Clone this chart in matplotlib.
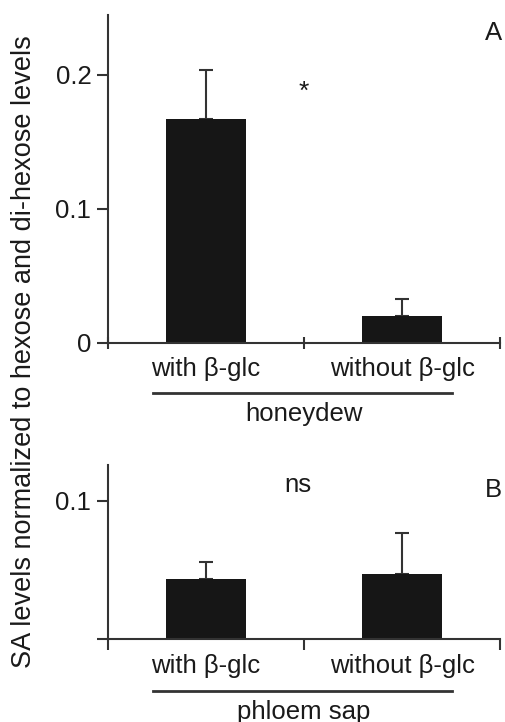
import matplotlib
matplotlib.use("Agg")
import matplotlib.pyplot as plt
import matplotlib.transforms as mtrans

plt.rcParams['font.family'] = ['Liberation Sans', 'DejaVu Sans']

categories = ["with β-glc", "without β-glc"]
honeydew_mean = [0.167, 0.020]
honeydew_err = [0.0365, 0.0125]
phloem_mean = [0.0435, 0.047]
phloem_err = [0.012, 0.030]
panel_a_yticks = [0, 0.1, 0.2]
panel_a_yticklabels = ["0", "0.1", "0.2"]
panel_b_yticks = [0, 0.1]
panel_b_yticklabels = ["", "0.1"]
group_labels = ["honeydew", "phloem sap"]
panel_letters = ["A", "B"]
sig_labels = ["*", "ns"]

W, H = 506, 722
fig = plt.figure(figsize=(W / 100, H / 100), dpi=100)

left = 108 / W
width = (500 - 108) / W
axA = fig.add_axes([left, 1 - 342.7 / H, width, (342.7 - 15) / H])
axB = fig.add_axes([left, 1 - 639 / H, width, (639 - 465) / H])

line_col = "#333333"
bar_col = "#161616"
txt_col = "#1a1a1a"
fs = 18.5

for ax, means, errs, ylim, yt, ytl, glabel, letter, sig, xdir in [
        (axA, honeydew_mean, honeydew_err, 0.2446, panel_a_yticks, panel_a_yticklabels,
         group_labels[0], panel_letters[0], sig_labels[0], 'inout'),
        (axB, phloem_mean, phloem_err, 0.126, panel_b_yticks, panel_b_yticklabels,
         group_labels[1], panel_letters[1], sig_labels[1], 'out')]:
    x = list(range(len(categories)))
    ax.bar(x, means, width=0.405, color=bar_col, zorder=2)
    ax.errorbar(x, means, yerr=[[0] * len(errs), errs], fmt='none',
                ecolor=line_col, elinewidth=1.5, capsize=5, capthick=1.5, zorder=1)
    ax.set_xlim(-0.5, 1.5)
    ax.set_ylim(0, ylim)
    for s in ['top', 'right']:
        ax.spines[s].set_visible(False)
    for s in ['left', 'bottom']:
        ax.spines[s].set_color(line_col)
        ax.spines[s].set_linewidth(1.5)
    ax.set_yticks(yt)
    ax.set_yticklabels(ytl)
    ax.tick_params(axis='y', direction='out', length=8, width=1.5, color=line_col,
                   labelsize=fs, pad=4, labelcolor=txt_col)
    ax.set_xticks([-0.5, 0.5, 1.5])
    ax.set_xticklabels(["", "", ""])
    ax.tick_params(axis='x', which='major', direction=xdir, length=8, width=1.5, color=line_col)
    ax.set_xticks(x, minor=True)
    ax.set_xticklabels(categories, minor=True)
    ax.tick_params(axis='x', which='minor', length=0, labelsize=fs, pad=10.5, labelcolor=txt_col)
    ax.set_facecolor('none')

    tr = mtrans.blended_transform_factory(ax.transData, ax.transAxes)
    ax_h = ax.get_position().height * H
    if ax is axA:
        line_y = (342.7 - 392.7) / ax_h
        lab_y = (342.7 - 420.7) / ax_h
        ax.text(0.5, (342.7 - 92) / ax_h, sig, ha='center', va='center', fontsize=19,
                transform=tr, color=txt_col)
        ax.text(1.51, (342.7 - 33) / ax_h, letter, ha='right', va='center', fontsize=fs,
                transform=tr, color=txt_col)
    else:
        line_y = (639 - 690.7) / ax_h
        lab_y = (639 - 719) / ax_h
        ax.text(0.47, (639 - 485) / ax_h, sig, ha='center', va='center', fontsize=fs,
                transform=tr, color=txt_col)
        ax.text(1.51, (639 - 490) / ax_h, letter, ha='right', va='center', fontsize=fs,
                transform=tr, color=txt_col)
    ax.plot([-0.27, 1.255], [line_y, line_y], color=line_col, lw=2, transform=tr, clip_on=False)
    ax.text(0.5, lab_y, glabel, ha='center', va='baseline', fontsize=fs, transform=tr,
            color=txt_col)

fig.text(24 / W, 1 - 351.5 / H, "SA levels normalized to hexose and di-hexose levels",
         rotation=90, ha='center', va='center', fontsize=19.5, color=txt_col)

fig.savefig("out.png", dpi=100)
